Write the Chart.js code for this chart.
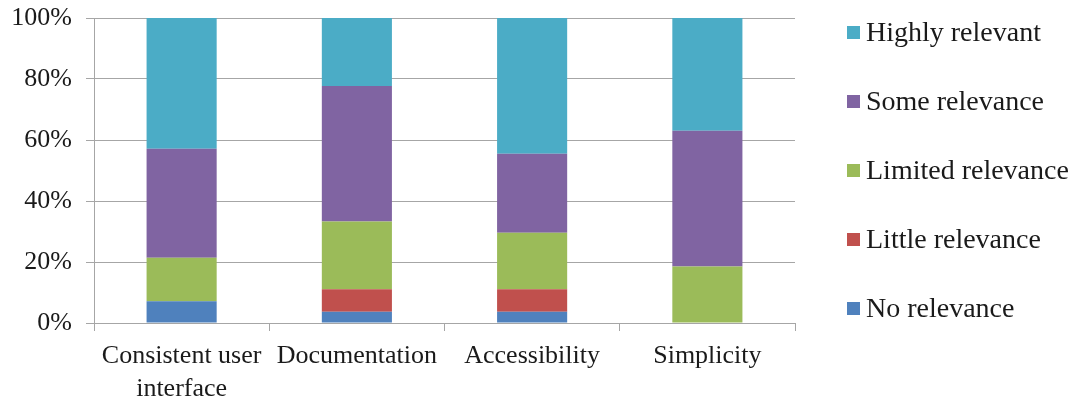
<!DOCTYPE html>
<html>
<head>
<meta charset="utf-8">
<script src="https://cdn.jsdelivr.net/npm/chart.js@4"></script>
<style>
  html, body { margin: 0; padding: 0; background: #fff; }
  #wrap { width: 1075px; height: 403px; }
</style>
</head>
<body>
<div id="wrap"><canvas id="myChart"></canvas></div>
<script>
// chart data
const categories = [['Consistent user', 'interface'], 'Documentation', 'Accessibility', 'Simplicity'];
const noRelevance = [7.1, 3.7, 3.7, 0];
const littleRelevance = [0, 7.4, 7.4, 0];
const limitedRelevance = [14.3, 22.2, 18.5, 18.5];
const someRelevance = [35.7, 44.4, 25.9, 44.5];
const highlyRelevant = [42.9, 22.3, 44.5, 37.0];
const yTicks = [0, 20, 40, 60, 80, 100];

const FONT = "'Liberation Serif', 'Times New Roman', serif";
const GRID = '#a6a6a6';

// legend drawn at the right, top item first (reverse of stack order)
const sideLegend = {
    id: 'sideLegend',
    afterDraw(chart) {
        const ctx = chart.ctx;
        const sets = chart.data.datasets.slice().reverse();
        ctx.save();
        ctx.font = '28px ' + FONT;
        ctx.textBaseline = 'middle';
        ctx.textAlign = 'left';
        sets.forEach((ds, i) => {
            const y = 32.5 + i * 69;
            ctx.fillStyle = ds.backgroundColor;
            ctx.fillRect(847, y - 6.5, 13, 13);
            ctx.fillStyle = '#1a1a1a';
            ctx.fillText(ds.label, 866, y + 1);
        });
        ctx.restore();
    }
};

function ds(label, data, color) {
    return { label: label, data: data, backgroundColor: color, borderWidth: 0 };
}

new Chart(document.getElementById('myChart'), {
    type: 'bar',
    data: {
        labels: categories,
        datasets: [
            ds('No relevance', noRelevance, '#4F81BD'),
            ds('Little relevance', littleRelevance, '#C0504D'),
            ds('Limited relevance', limitedRelevance, '#9BBB59'),
            ds('Some relevance', someRelevance, '#8064A2'),
            ds('Highly relevant', highlyRelevant, '#4BACC6')
        ]
    },
    options: {
        responsive: true,
        maintainAspectRatio: false,
        animation: false,
        layout: { padding: { top: 18, right: 280, left: 0, bottom: 0 } },
        datasets: { bar: { categoryPercentage: 1, barPercentage: 0.4 } },
        plugins: { legend: { display: false }, tooltip: { enabled: false } },
        scales: {
            x: {
                stacked: true,
                grid: { drawOnChartArea: false, drawTicks: true, tickLength: 8, color: GRID },
                border: { color: GRID },
                ticks: { color: '#1a1a1a', padding: 9, maxRotation: 0, font: { family: FONT, size: 26, lineHeight: 1.25 } },
                afterFit(scale) {
                    scale.height = 80;
                    scale.paddingLeft = 0;
                    scale.paddingRight = 0;
                }
            },
            y: {
                stacked: true,
                min: 0,
                max: 100,
                afterBuildTicks(scale) { scale.ticks = yTicks.map(v => ({ value: v })); },
                grid: { color: GRID, tickLength: 8 },
                border: { color: GRID },
                ticks: { color: '#1a1a1a', padding: 14, font: { family: FONT, size: 26 }, callback: v => v + '%' },
                afterFit(scale) {
                    scale.width = 94;
                    scale.paddingTop = 0;
                    scale.paddingBottom = 0;
                }
            }
        }
    },
    plugins: [sideLegend]
});
</script>
</body>
</html>
